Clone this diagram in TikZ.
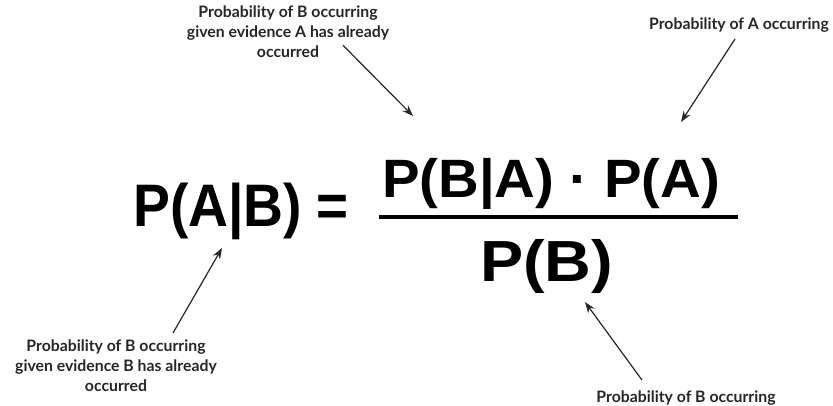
\documentclass[tikz,border=0pt]{standalone}
\usepackage{fontspec}
\usepackage{graphicx}
\setmainfont{Liberation Sans}
\newfontfamily\lblfont{Lato}
\usetikzlibrary{arrows.meta, calc}
\definecolor{inkgray}{HTML}{262626}

% big bold formula text, squeezed to a given width
\newcommand{\bigtxt}[3]{\resizebox{#1}{\height}{\fontsize{#2}{#2}\selectfont\bfseries #3}}

\begin{document}
\begin{tikzpicture}[x=1pt, y=-1pt,
    formula/.style={inner sep=0pt, anchor=base west, text=black},
    note/.style={inner sep=0pt, font=\lblfont\bfseries\fontsize{15.8}{20}\selectfont, text=inkgray, align=center},
    pointer/.style={-{Stealth[length=11pt, width=8pt]}, line width=1.2pt, draw=inkgray},
    fracbar/.style={line width=4pt, black}
]
\useasboundingbox (0,0) rectangle (833,406);

% Left-hand side
\node[formula] (lhs) at (133,227) {\bigtxt{169pt}{60}{P(A|B)}};
\node[formula] (eq) at (316,227) {\bigtxt{32pt}{60}{=}};

% Fraction
\node[formula] (num) at (382,198) {\bigtxt{338pt}{54}{P(B|A) · P(A)}};
\node[formula] (den) at (480,282) {\bigtxt{133pt}{58}{P(B)}};
\coordinate (barL) at (379,217);
\coordinate (barR) at (738,217);
\draw[fracbar] (barL) -- (barR);

% Notes
\node[note, anchor=north] (labBA) at (288,6) {Probability of B occurring\\given evidence A has already\\occurred};
\node[note, anchor=base] (labA) at (739,30) {Probability of A occurring};
\node[note, anchor=north] (labAB) at (116,340) {Probability of B occurring\\given evidence B has already\\occurred};
\node[note, anchor=base] (labB) at (686,402) {Probability of B occurring};

% Arrow tips
\coordinate (tipBA) at (413,116);
\coordinate (tipA) at (681,122);
\coordinate (tipAB) at (222,248);
\coordinate (tipB) at (585,302);

% Pointers
\draw[pointer] ($(labBA.south)+(55,-13)$) -- (tipBA);
\draw[pointer] ($(labA.south)+(-4,6)$) -- (tipA);
\draw[pointer] ($(labAB.north)+(57,-7)$) -- (tipAB);
\draw[pointer] ($(labB.north)+(-44,-10)$) -- (tipB);
\end{tikzpicture}
\end{document}
